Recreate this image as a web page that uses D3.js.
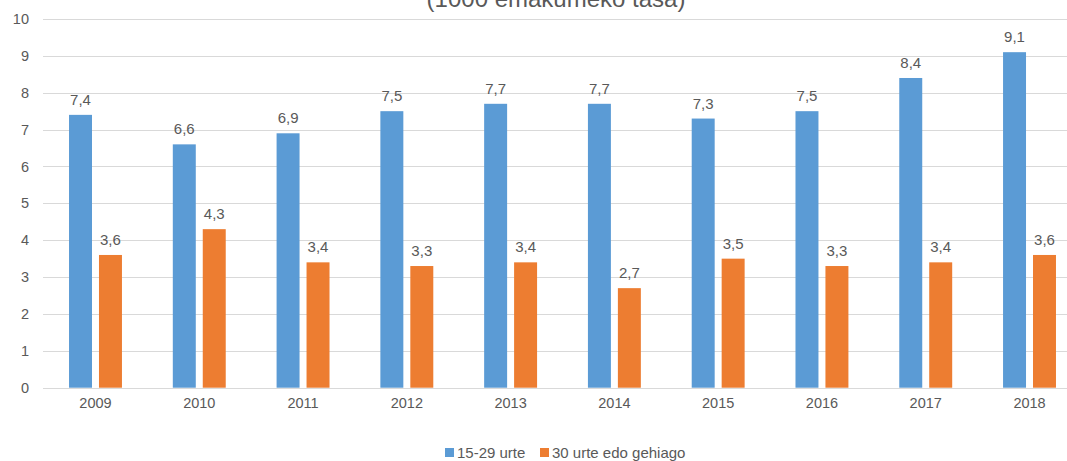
<!DOCTYPE html>
<html>
<head>
<meta charset="utf-8">
<script src="https://cdn.jsdelivr.net/npm/d3@7"></script>
<style>
  body { margin: 0; background: #fff; }
  text { font-family: "Liberation Sans", Arial, sans-serif; fill: #595959; }
</style>
</head>
<body>
<script>
var years = ["2009", "2010", "2011", "2012", "2013", "2014", "2015", "2016", "2017", "2018"];
var seriesNames = ["15-29 urte", "30 urte edo gehiago"];
var young = [7.4, 6.6, 6.9, 7.5, 7.7, 7.7, 7.3, 7.5, 8.4, 9.1];
var older = [3.6, 4.3, 3.4, 3.3, 3.4, 2.7, 3.5, 3.3, 3.4, 3.6];
var colors = ["#5B9BD5", "#ED7D31"];
var yTicks = [0, 1, 2, 3, 4, 5, 6, 7, 8, 9, 10];
var title = "(1000 emakumeko tasa)";

var width = 1067, height = 461;

var svg = d3.select("body").append("svg")
    .attr("width", width)
    .attr("height", height);

var x0 = d3.scaleBand()
    .domain(years)
    .range([43.6, 1081.4])
    .paddingInner(0.49)
    .paddingOuter(0.245);

var x1 = d3.scaleBand()
    .domain([0, 1])
    .range([0, x0.bandwidth()])
    .paddingInner(0.233);

var y = d3.scaleLinear()
    .domain([0, 10])
    .range([387.7, 19]);

// title, cut off by the top edge as in the original
svg.append("text")
    .attr("x", 556)
    .attr("y", 7)
    .attr("text-anchor", "middle")
    .attr("font-size", 24)
    .text(title);

// gridlines
svg.append("g")
    .selectAll("line")
    .data(yTicks)
    .enter()
    .append("line")
    .attr("x1", 43)
    .attr("x2", width)
    .attr("y1", function(d){ return Math.round(y(d)) + 0.5; })
    .attr("y2", function(d){ return Math.round(y(d)) + 0.5; })
    .attr("stroke", "#D9D9D9")
    .attr("stroke-width", 1);

// y axis labels
var yAxis = svg.append("g")
    .attr("transform", "translate(43,0)")
    .call(d3.axisLeft(y).tickValues(yTicks).tickSize(0).tickPadding(14));
yAxis.select(".domain").remove();
yAxis.selectAll("text").attr("font-size", 14.5).style("fill", "#595959")
    .style("font-family", "'Liberation Sans', Arial, sans-serif");

// x axis labels
var xAxis = svg.append("g")
    .attr("transform", "translate(0,388)")
    .call(d3.axisBottom(x0).tickSize(0).tickPadding(10));
xAxis.select(".domain").remove();
xAxis.selectAll("text").attr("font-size", 14.5).style("fill", "#595959")
    .style("font-family", "'Liberation Sans', Arial, sans-serif");

var table = years.map(function(yr, i){
  return {year: yr, values: [young[i], older[i]]};
});

var groups = svg.append("g")
    .selectAll("g")
    .data(table)
    .enter()
    .append("g")
    .attr("transform", function(d){ return "translate(" + x0(d.year) + ",0)"; });

var cells = groups.selectAll("g")
    .data(function(d){ return d.values.map(function(v, k){ return {k: k, v: v}; }); })
    .enter()
    .append("g");

cells.append("rect")
    .attr("x", function(d){ return x1(d.k); })
    .attr("width", x1.bandwidth())
    .attr("y", function(d){ return y(d.v); })
    .attr("height", function(d){ return y(0) - y(d.v); })
    .attr("fill", function(d){ return colors[d.k]; });

cells.append("text")
    .attr("x", function(d){ return x1(d.k) + x1.bandwidth() / 2; })
    .attr("y", function(d){ return y(d.v) - 10; })
    .attr("text-anchor", "middle")
    .attr("font-size", 15)
    .text(function(d){ return String(d.v).replace(".", ","); });

// legend
var legendX = [445, 540];
var legend = svg.append("g")
    .selectAll("g")
    .data(seriesNames)
    .enter()
    .append("g")
    .attr("transform", function(d, i){ return "translate(" + legendX[i] + ",448)"; });

legend.append("rect")
    .attr("width", 9)
    .attr("height", 9)
    .attr("fill", function(d, i){ return colors[i]; });

legend.append("text")
    .attr("x", 12)
    .attr("y", 9.5)
    .attr("font-size", 15)
    .text(function(d){ return d; });
</script>
</body>
</html>
